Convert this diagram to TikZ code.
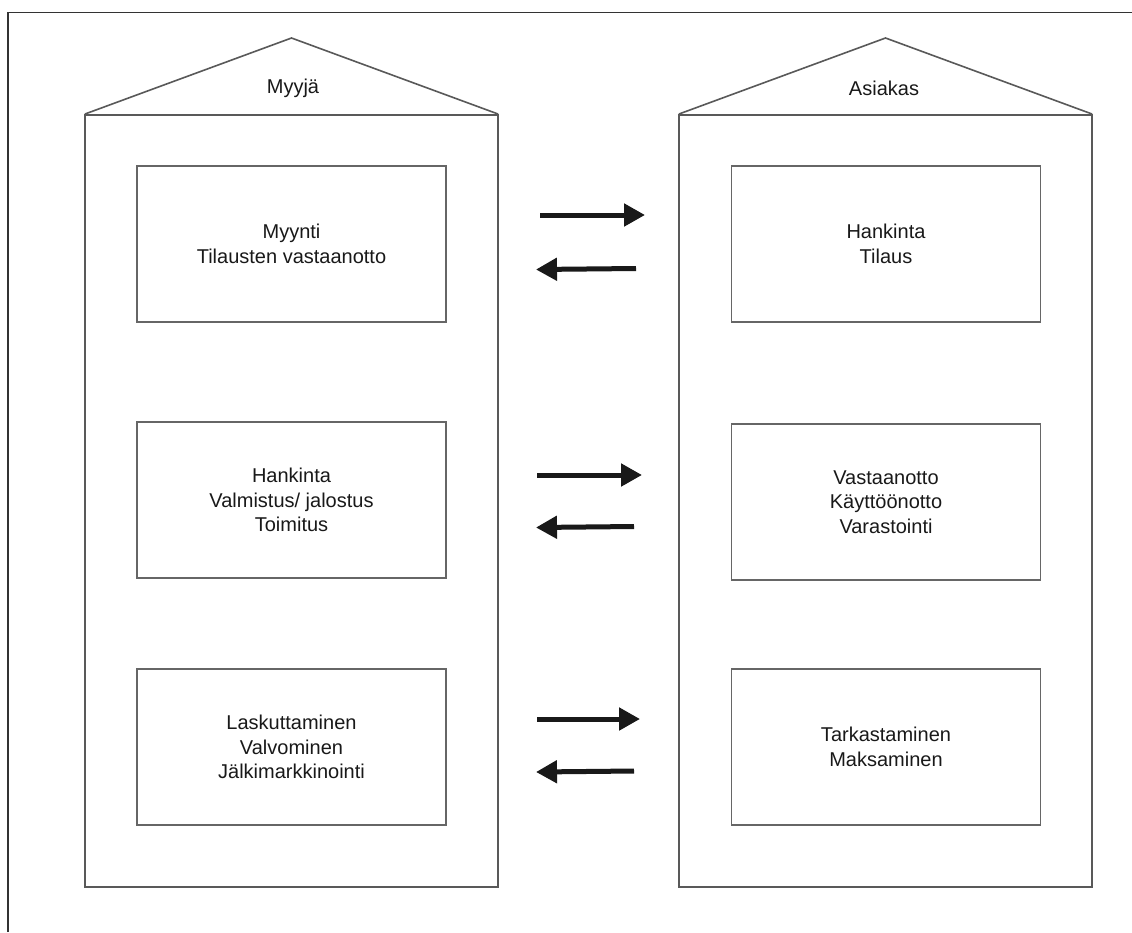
\documentclass[tikz,border=0pt]{standalone}
\usepackage{fontspec}
\setmainfont{Liberation Sans}
\usetikzlibrary{arrows.meta}
\begin{document}
\begin{tikzpicture}[x=1pt,y=-1pt,
  frame/.style={draw=black!80,line width=1.3pt},
  house/.style={draw=black!65,line width=1.6pt},
  stage/.style={draw=black!60,line width=1.1pt,minimum width=309pt,minimum height=156pt,
    align=center,font=\fontsize{20}{24.5}\selectfont,text=black!90,inner sep=0pt},
  title/.style={font=\fontsize{20}{24.5}\selectfont,text=black!90},
  flow/.style={line width=5pt,draw=black!90,-{Triangle[length=21pt,width=22pt]}}]
\useasboundingbox (0,0) rectangle (1132,932);
\fill[white] (0,0) rectangle (1132,932);
% outer frame (open to the right and bottom)
\draw[frame] (8,932) -- (8,12.5) -- (1132,12.5);
% seller house
\draw[house] (85,114) -- (291.5,38) -- (498,114);
\draw[house] (85,115) rectangle (498,887);
\node[title] (myyja) at (293,88) {Myyjä};
% customer house
\draw[house] (679,114) -- (885.5,38) -- (1092,114);
\draw[house] (679,115) rectangle (1092,887);
\node[title] (asiakas) at (884,88) {Asiakas};
% seller stages
\node[stage] (s1) at (291.5,244) {Myynti\\Tilausten vastaanotto};
\node[stage] (s2) at (291.5,500) {Hankinta\\Valmistus/ jalostus\\Toimitus};
\node[stage] (s3) at (291.5,747) {Laskuttaminen\\Valvominen\\Jälkimarkkinointi};
% customer stages
\node[stage] (c1) at (886,244) {Hankinta\\Tilaus};
\node[stage] (c2) at (886,502) {Vastaanotto\\Käyttöönotto\\Varastointi};
\node[stage] (c3) at (886,747) {Tarkastaminen\\Maksaminen};
% arrow ends
\coordinate (a1s) at (540,215); \coordinate (a1e) at (645,215);
\coordinate (b1s) at (636,268.5); \coordinate (b1e) at (536,269.5);
\coordinate (a2s) at (537,475); \coordinate (a2e) at (642,475);
\coordinate (b2s) at (634,526.5); \coordinate (b2e) at (536,527.5);
\coordinate (a3s) at (537,719); \coordinate (a3e) at (640,719);
\coordinate (b3s) at (634,771); \coordinate (b3e) at (536,772);
\draw[flow] (a1s) -- (a1e);
\draw[flow] (b1s) -- (b1e);
\draw[flow] (a2s) -- (a2e);
\draw[flow] (b2s) -- (b2e);
\draw[flow] (a3s) -- (a3e);
\draw[flow] (b3s) -- (b3e);
\end{tikzpicture}
\end{document}
